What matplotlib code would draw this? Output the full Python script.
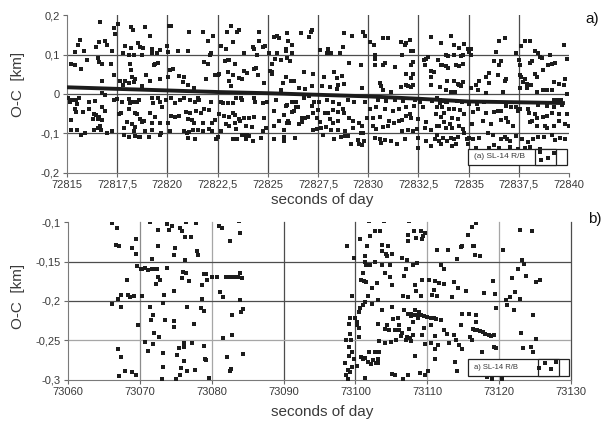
import matplotlib
matplotlib.use("Agg")
import matplotlib.pyplot as plt
from matplotlib.patches import Rectangle
from matplotlib.ticker import FuncFormatter

plt.rcParams['font.family'] = ['Liberation Sans', 'DejaVu Sans']

# ---------------- panel a) : O-C residuals, 72815-72840 s ----------------
seg_a1 = [
    (72816.65, 0.182), (72817.34, 0.168), (72817.55, 0.177), (72818.20, 0.169), (72818.27, 0.161),
    (72818.89, 0.169), (72820.07, 0.171), (72820.20, 0.173), (72817.39, 0.151), (72819.13, 0.148),
    (72815.65, 0.137), (72815.54, 0.124), (72816.57, 0.132), (72816.90, 0.134), (72817.01, 0.124),
    (72816.44, 0.120), (72817.91, 0.122), (72818.19, 0.117), (72818.53, 0.128), (72818.64, 0.120),
    (72818.77, 0.117), (72819.22, 0.114), (72819.62, 0.111), (72815.87, 0.109), (72815.38, 0.107),
    (72817.25, 0.109), (72817.78, 0.105), (72820.00, 0.122), (72820.03, 0.107), (72820.52, 0.109),
    (72821.01, 0.109), (72818.07, 0.098), (72818.32, 0.098), (72818.73, 0.098), (72819.22, 0.103),
    (72819.46, 0.103), (72815.21, 0.075), (72815.42, 0.073), (72815.70, 0.064), (72815.98, 0.085),
    (72816.52, 0.090), (72816.60, 0.081), (72816.73, 0.075), (72817.17, 0.077), (72818.15, 0.075),
    (72819.38, 0.077), (72819.51, 0.079), (72819.35, 0.073), (72820.11, 0.060), (72820.28, 0.064),
    (72818.20, 0.060), (72818.24, 0.043), (72817.34, 0.049), (72818.92, 0.049), (72816.76, 0.032),
    (72817.66, 0.032), (72817.91, 0.034), (72818.07, 0.028), (72818.32, 0.030), (72818.37, 0.038),
    (72818.73, 0.021), (72819.13, 0.034), (72819.62, 0.038), (72820.03, 0.043), (72820.60, 0.045),
    (72820.82, 0.042), (72820.77, 0.030), (72821.01, 0.024), (72817.78, 0.023),
    (72815.05, -0.009), (72815.26, -0.015), (72815.13, -0.020), (72815.46, -0.015), (72815.62, -0.009),
    (72815.49, -0.026), (72815.38, -0.039), (72816.08, -0.020), (72816.41, -0.017), (72816.76, 0.002),
    (72816.90, -0.003), (72817.34, -0.015), (72817.50, -0.013), (72817.75, -0.020), (72818.07, -0.013),
    (72818.15, -0.023), (72818.27, -0.021), (72818.48, -0.020), (72818.59, -0.015), (72819.22, -0.011),
    (72819.30, -0.023), (72819.54, -0.011), (72819.62, -0.021), (72819.71, -0.032), (72819.95, -0.015),
    (72820.20, -0.009), (72820.36, -0.023), (72820.65, -0.015), (72820.85, -0.011), (72821.14, -0.015),
    (72816.11, -0.039), (72816.76, -0.032), (72815.78, -0.045), (72815.46, -0.045), (72816.36, -0.051),
    (72816.44, -0.054), (72816.57, -0.057), (72816.52, -0.064), (72816.31, -0.064), (72816.73, -0.066),
    (72816.90, -0.044), (72817.58, -0.051), (72817.71, -0.049), (72818.07, -0.039), (72818.37, -0.047),
    (72818.48, -0.051), (72818.64, -0.064), (72818.73, -0.071), (72818.86, -0.068), (72819.13, -0.047),
    (72819.38, -0.057), (72819.22, -0.073), (72819.62, -0.073), (72820.03, -0.073), (72820.16, -0.056),
    (72820.36, -0.057), (72820.60, -0.056), (72820.93, -0.045), (72821.14, -0.047), (72815.21, -0.066),
    (72816.52, -0.085), (72816.63, -0.081), (72816.36, -0.092), (72816.68, -0.090), (72817.25, -0.094),
    (72817.01, -0.099), (72815.21, -0.090), (72815.49, -0.092), (72815.70, -0.103), (72815.92, -0.100),
    (72817.83, -0.085), (72817.99, -0.071), (72818.24, -0.077), (72818.40, -0.083), (72818.32, -0.094),
    (72818.37, -0.107), (72818.59, -0.109), (72818.89, -0.094), (72819.22, -0.092), (72819.67, -0.099),
    (72819.62, -0.105), (72820.11, -0.094), (72820.85, -0.094), (72820.98, -0.099), (72821.09, -0.097),
    (72821.01, -0.111), (72817.83, -0.105), (72818.07, -0.110), (72818.64, -0.109), (72819.09, -0.109),
]

seg_a2 = [
    (72821.09, 0.158), (72821.75, 0.156), (72822.00, 0.134), (72822.25, 0.148), (72822.95, 0.156),
    (72823.16, 0.171), (72823.25, 0.132), (72823.49, 0.156), (72823.58, 0.162), (72824.54, 0.158),
    (72824.54, 0.134), (72825.31, 0.145), (72825.48, 0.148), (72825.56, 0.141), (72825.98, 0.154),
    (72826.03, 0.134), (72826.19, 0.124), (72826.64, 0.154), (72827.05, 0.145), (72827.14, 0.158),
    (72827.22, 0.162), (72822.67, 0.122), (72822.91, 0.115), (72824.27, 0.120), (72824.32, 0.114),
    (72824.44, 0.098), (72824.74, 0.120), (72824.87, 0.122), (72825.07, 0.103), (72825.48, 0.103),
    (72825.89, 0.114), (72825.93, 0.109), (72826.19, 0.105), (72822.12, 0.100), (72822.17, 0.103),
    (72823.82, 0.103), (72821.84, 0.081), (72822.00, 0.077), (72822.88, 0.083), (72823.00, 0.085),
    (72823.08, 0.085), (72823.38, 0.077), (72825.23, 0.077), (72825.36, 0.088), (72825.65, 0.085),
    (72825.98, 0.090), (72826.09, 0.083), (72822.38, 0.049), (72822.50, 0.049), (72822.55, 0.051),
    (72823.00, 0.056), (72823.25, 0.047), (72823.82, 0.057), (72823.99, 0.054), (72824.32, 0.064),
    (72824.40, 0.066), (72824.49, 0.047), (72825.10, 0.057), (72825.20, 0.056), (72825.23, 0.051),
    (72826.14, 0.034), (72825.89, 0.043), (72825.76, 0.028), (72826.31, 0.032), (72826.81, 0.056),
    (72821.92, 0.038), (72823.08, 0.034), (72823.16, 0.020), (72823.58, 0.040), (72823.71, 0.038),
    (72824.82, 0.028), (72821.34, 0.015), (72825.65, 0.011), (72826.56, 0.015), (72826.86, 0.013),
    (72827.22, 0.020),
    (72821.51, -0.009), (72821.59, -0.015), (72822.17, -0.020), (72821.39, -0.021), (72822.67, -0.020),
    (72822.78, -0.023), (72823.00, -0.023), (72823.25, -0.023), (72823.41, -0.011), (72823.66, -0.011),
    (72823.71, -0.015), (72824.32, -0.011), (72824.37, -0.020), (72824.74, -0.023), (72824.98, -0.020),
    (72825.43, -0.015), (72825.89, -0.030), (72825.98, -0.028), (72826.23, -0.021), (72826.39, -0.021),
    (72826.81, -0.011), (72827.05, -0.006), (72827.30, -0.020), (72821.42, -0.043), (72821.84, -0.039),
    (72822.09, -0.040), (72821.67, -0.047), (72823.25, -0.047), (72822.58, -0.051), (72822.83, -0.056),
    (72823.05, -0.057), (72823.38, -0.054), (72823.58, -0.064), (72823.82, -0.062), (72824.07, -0.062),
    (72824.32, -0.057), (72824.82, -0.060), (72825.31, -0.043), (72825.81, -0.054), (72826.03, -0.068),
    (72826.23, -0.045), (72826.31, -0.043), (72826.39, -0.034), (72826.52, -0.034), (72826.72, -0.062),
    (72827.02, -0.057), (72827.22, -0.030), (72821.01, -0.064), (72821.22, -0.066), (72821.34, -0.073),
    (72821.75, -0.073), (72822.22, -0.073), (72822.38, -0.066), (72822.91, -0.077), (72823.05, -0.080),
    (72823.38, -0.073), (72823.61, -0.068), (72823.91, -0.081), (72824.21, -0.083), (72824.90, -0.085),
    (72825.31, -0.081), (72825.56, -0.068), (72825.98, -0.073), (72826.06, -0.074), (72826.56, -0.077),
    (72826.72, -0.071), (72826.86, -0.062), (72821.26, -0.092), (72821.51, -0.090), (72821.75, -0.094),
    (72822.09, -0.088), (72822.22, -0.094), (72822.67, -0.094), (72823.41, -0.088), (72824.74, -0.094),
    (72825.81, -0.090), (72827.25, -0.092), (72821.39, -0.114), (72822.42, -0.114), (72822.50, -0.109),
    (72823.25, -0.114), (72823.49, -0.114), (72823.71, -0.105), (72823.87, -0.103), (72823.99, -0.105),
    (72824.07, -0.107), (72823.94, -0.115), (72824.24, -0.120), (72824.65, -0.111), (72825.31, -0.115),
    (72825.81, -0.109), (72825.81, -0.120), (72826.36, -0.111),
]

seg_a3 = [
    (72828.81, 0.154), (72829.21, 0.148), (72829.75, 0.156), (72829.83, 0.148), (72830.08, 0.132),
    (72830.30, 0.124), (72830.75, 0.143), (72830.99, 0.141), (72831.62, 0.131), (72831.82, 0.124),
    (72831.90, 0.128), (72832.07, 0.137), (72832.15, 0.109), (72832.24, 0.109), (72833.15, 0.145),
    (72833.64, 0.128), (72828.01, 0.114), (72827.60, 0.111), (72827.93, 0.103), (72828.15, 0.103),
    (72828.59, 0.103), (72828.76, 0.120), (72831.66, 0.098), (72830.33, 0.098), (72830.36, 0.088),
    (72830.33, 0.073), (72829.04, 0.079), (72829.64, 0.074), (72830.75, 0.073), (72830.86, 0.079),
    (72831.36, 0.068), (72832.15, 0.074), (72832.24, 0.081), (72832.78, 0.085), (72832.90, 0.088),
    (72832.98, 0.094), (72832.82, 0.074), (72833.15, 0.057), (72833.28, 0.056), (72833.61, 0.074),
    (72827.27, 0.051), (72828.31, 0.056), (72827.81, 0.043), (72828.43, 0.041), (72828.68, 0.045),
    (72831.90, 0.051), (72832.24, 0.051), (72832.12, 0.040), (72833.15, 0.043), (72833.15, 0.023),
    (72827.71, 0.020), (72828.10, 0.017), (72828.51, 0.023), (72828.81, 0.026), (72828.43, 0.013),
    (72829.67, 0.015), (72830.58, 0.028), (72830.63, 0.020), (72830.75, 0.009), (72831.16, 0.006),
    (72831.62, 0.017), (72831.90, 0.023), (72831.99, 0.020), (72832.24, 0.023), (72832.15, 0.017),
    (72827.55, -0.021), (72827.93, -0.015), (72828.26, -0.020), (72828.54, -0.026), (72829.01, -0.015),
    (72829.30, -0.020), (72829.83, -0.020), (72830.50, -0.015), (72830.91, -0.017), (72831.32, -0.015),
    (72831.74, -0.017), (72832.32, -0.015), (72832.57, -0.020), (72833.18, -0.017), (72833.56, -0.023),
    (72827.27, -0.047), (72827.52, -0.040), (72827.85, -0.047), (72828.01, -0.049), (72828.26, -0.040),
    (72828.51, -0.045), (72828.76, -0.037), (72828.81, -0.047), (72830.08, -0.037), (72830.41, -0.034),
    (72830.86, -0.037), (72831.24, -0.043), (72831.52, -0.039), (72831.90, -0.032), (72832.29, -0.030),
    (72832.73, -0.032), (72827.43, -0.062), (72827.60, -0.071), (72828.10, -0.064), (72828.26, -0.074),
    (72828.51, -0.068), (72829.04, -0.062), (72829.25, -0.068), (72829.54, -0.073), (72829.67, -0.081),
    (72829.92, -0.060), (72830.25, -0.062), (72830.58, -0.057), (72831.03, -0.068), (72831.29, -0.073),
    (72831.52, -0.068), (72831.69, -0.066), (72831.90, -0.056), (72832.07, -0.051), (72832.15, -0.060),
    (72832.48, -0.064), (72832.90, -0.071), (72833.39, -0.051), (72827.43, -0.088), (72827.65, -0.085),
    (72827.88, -0.083), (72828.15, -0.092), (72828.51, -0.092), (72828.84, -0.094), (72829.25, -0.085),
    (72829.64, -0.099), (72829.75, -0.099), (72830.25, -0.081), (72830.41, -0.088), (72830.75, -0.083),
    (72830.99, -0.081), (72831.66, -0.094), (72831.99, -0.090), (72832.24, -0.094), (72832.45, -0.088),
    (72832.82, -0.085), (72833.11, -0.092), (72827.76, -0.103), (72828.31, -0.114), (72828.64, -0.109),
    (72828.84, -0.107), (72829.01, -0.107), (72829.14, -0.126), (72829.47, -0.117), (72829.54, -0.126),
    (72829.67, -0.128), (72829.80, -0.120), (72830.36, -0.111), (72830.58, -0.114), (72830.66, -0.124),
    (72830.83, -0.117), (72831.16, -0.120), (72831.46, -0.126), (72831.82, -0.114), (72832.48, -0.137),
    (72832.48, -0.111), (72832.90, -0.120), (72833.11, -0.131), (72833.35, -0.114), (72833.51, -0.120),
]

seg_a4 = [
    (72834.11, 0.148), (72834.28, 0.124), (72834.53, 0.117), (72834.78, 0.126), (72834.95, 0.114),
    (72835.12, 0.114), (72835.03, 0.107), (72836.54, 0.134), (72836.80, 0.141), (72837.80, 0.134),
    (72838.05, 0.134), (72837.63, 0.122), (72839.73, 0.124), (72833.86, 0.098), (72833.99, 0.097),
    (72834.28, 0.100), (72834.61, 0.097), (72834.73, 0.100), (72835.12, 0.100), (72836.38, 0.107),
    (72837.38, 0.105), (72838.31, 0.109), (72838.47, 0.105), (72838.56, 0.094), (72838.64, 0.090),
    (72839.06, 0.100), (72833.49, 0.085), (72833.69, 0.074), (72833.86, 0.071), (72833.99, 0.066),
    (72834.36, 0.073), (72834.50, 0.071), (72834.70, 0.077), (72836.29, 0.083), (72836.54, 0.074),
    (72836.63, 0.083), (72837.52, 0.085), (72837.55, 0.074), (72838.05, 0.079), (72838.14, 0.083),
    (72838.98, 0.074), (72839.14, 0.077), (72839.31, 0.079), (72839.90, 0.088), (72833.94, 0.032),
    (72834.28, 0.034), (72834.45, 0.026), (72834.50, 0.023), (72834.61, 0.020), (72834.70, 0.030),
    (72836.01, 0.054), (72835.87, 0.043), (72835.54, 0.034), (72835.37, 0.023), (72836.04, 0.028),
    (72836.46, 0.047), (72836.88, 0.038), (72836.80, 0.032), (72837.55, 0.049), (72837.63, 0.043),
    (72837.80, 0.038), (72837.72, 0.030), (72837.89, 0.026), (72838.09, 0.023), (72838.31, 0.051),
    (72838.39, 0.043), (72838.73, 0.062), (72839.23, 0.030), (72839.48, 0.026), (72839.73, 0.023),
    (72839.82, 0.038), (72833.56, 0.017), (72833.86, 0.011), (72834.11, 0.006), (72834.33, 0.004),
    (72835.12, 0.015), (72835.45, 0.011), (72835.87, 0.003), (72836.71, 0.004), (72837.55, 0.015),
    (72837.89, 0.015), (72838.39, 0.004), (72838.73, 0.009), (72838.89, 0.011), (72839.14, 0.011),
    (72839.23, -0.015), (72839.43, -0.015), (72839.60, -0.015), (72839.90, 0.000),
    (72833.44, -0.009), (72833.56, -0.015), (72833.69, -0.017), (72833.86, -0.020), (72833.94, -0.021),
    (72834.40, -0.017), (72834.66, -0.021), (72835.03, -0.026), (72835.40, -0.026), (72835.79, -0.020),
    (72836.88, -0.030), (72837.38, -0.034), (72837.47, -0.043), (72837.55, -0.039), (72837.97, -0.037),
    (72838.47, -0.028), (72838.89, -0.030), (72839.26, -0.034), (72839.65, -0.028), (72833.44, -0.032),
    (72833.69, -0.034), (72834.03, -0.039), (72834.28, -0.037), (72834.56, -0.040), (72833.61, -0.057),
    (72833.78, -0.047), (72834.19, -0.062), (72834.45, -0.064), (72834.78, -0.051), (72835.20, -0.045),
    (72835.45, -0.037), (72835.87, -0.049), (72836.29, -0.045), (72836.46, -0.043), (72836.63, -0.043),
    (72836.88, -0.060), (72837.13, -0.034), (72838.02, -0.047), (72838.31, -0.051), (72838.39, -0.062),
    (72838.69, -0.057), (72838.89, -0.056), (72839.14, -0.047), (72839.48, -0.051), (72839.90, -0.051),
    (72833.44, -0.080), (72833.52, -0.081), (72833.78, -0.071), (72833.86, -0.085), (72834.06, -0.077),
    (72834.19, -0.085), (72834.53, -0.081), (72834.70, -0.088), (72835.17, -0.077), (72835.70, -0.068),
    (72836.12, -0.077), (72836.63, -0.066), (72836.96, -0.071), (72837.21, -0.081), (72838.05, -0.071),
    (72838.14, -0.068), (72838.39, -0.081), (72838.81, -0.081), (72838.89, -0.085), (72839.23, -0.080),
    (72839.48, -0.068), (72839.82, -0.077), (72839.98, -0.081), (72833.44, -0.105), (72833.72, -0.111),
    (72833.94, -0.120), (72834.11, -0.111), (72834.28, -0.114), (72834.45, -0.109), (72834.78, -0.100),
    (72834.90, -0.115), (72835.03, -0.111), (72835.20, -0.114), (72835.54, -0.111), (72835.96, -0.100),
    (72836.21, -0.103), (72836.63, -0.115), (72836.80, -0.109), (72836.91, -0.114), (72837.08, -0.120),
    (72837.38, -0.107), (72837.68, -0.114), (72837.97, -0.122), (72838.22, -0.115), (72838.47, -0.109),
    (72838.76, -0.109), (72839.14, -0.103), (72839.31, -0.117), (72839.56, -0.111), (72839.82, -0.115),
    (72833.61, -0.126), (72834.19, -0.131), (72834.36, -0.126), (72834.95, -0.126), (72835.37, -0.137),
    (72836.04, -0.137), (72836.29, -0.128), (72836.54, -0.137), (72837.05, -0.134), (72837.47, -0.139),
    (72837.80, -0.137), (72838.05, -0.134), (72838.56, -0.139),
]

# dense run of points forming the drifting band near zero
trend_sec = [72815.0, 72817.5, 72820.0, 72822.5, 72825.0, 72827.5,
             72830.0, 72832.5, 72835.0, 72837.5, 72839.8]
trend_oc = [0.017, 0.013, 0.009, 0.005, 0.002, -0.002,
            -0.006, -0.012, -0.019, -0.021, -0.023]

# ---------------- panel b) : O-C residuals, 73060-73130 s ----------------
seg_b1 = [
    (73066.14, -0.101), (73066.88, -0.108), (73071.40, -0.100), (73073.81, -0.102), (73074.42, -0.105),
    (73074.05, -0.110), (73072.56, -0.110), (73075.58, -0.108), (73075.91, -0.111), (73076.37, -0.100),
    (73077.81, -0.101), (73081.07, -0.105), (73081.40, -0.107), (73083.81, -0.099), (73083.95, -0.114),
    (73069.53, -0.121), (73076.28, -0.119), (73077.07, -0.119), (73082.51, -0.124), (73066.74, -0.129),
    (73067.12, -0.130), (73068.93, -0.133), (73072.47, -0.131), (73074.88, -0.133), (73078.00, -0.137),
    (73078.14, -0.142), (73069.44, -0.141), (73074.70, -0.142), (73071.72, -0.147), (73076.28, -0.148),
    (73069.63, -0.156), (73070.23, -0.159), (73070.14, -0.160), (73070.70, -0.158), (73071.16, -0.161),
    (73071.67, -0.160), (73072.05, -0.160), (73072.33, -0.159), (73073.77, -0.158), (73075.95, -0.163),
    (73076.42, -0.164), (73078.88, -0.166), (73079.21, -0.166), (73080.09, -0.169), (73080.74, -0.169),
    (73081.95, -0.169), (73082.56, -0.170), (73082.93, -0.170), (73083.26, -0.170), (73083.72, -0.170),
    (73084.28, -0.171), (73083.95, -0.164), (73072.56, -0.170), (73072.74, -0.173), (73075.81, -0.171),
    (73076.84, -0.175), (73079.40, -0.174), (73078.60, -0.180), (73068.14, -0.173), (73072.23, -0.178),
    (73074.70, -0.187), (73073.40, -0.192), (73067.44, -0.192), (73068.28, -0.192), (73068.65, -0.195),
    (73069.12, -0.194), (73070.23, -0.194), (73066.98, -0.197), (73066.14, -0.204), (73067.35, -0.207),
    (73078.60, -0.198), (73081.16, -0.188), (73081.53, -0.195), (73083.91, -0.199), (73071.40, -0.208),
    (73073.21, -0.202), (73076.60, -0.208), (73078.51, -0.209), (73078.98, -0.213), (73071.86, -0.218),
    (73071.49, -0.224), (73073.49, -0.224), (73074.79, -0.225), (73074.74, -0.233), (73077.58, -0.229),
    (73069.72, -0.230), (73082.79, -0.218), (73084.09, -0.214), (73084.33, -0.210), (73071.95, -0.241),
    (73072.65, -0.245), (73082.88, -0.243), (73081.63, -0.247), (73070.74, -0.252), (73071.86, -0.254),
    (73076.19, -0.253), (73077.30, -0.253), (73076.14, -0.258), (73075.44, -0.259), (73078.98, -0.257),
    (73066.98, -0.261), (73071.07, -0.263), (73067.44, -0.271), (73073.21, -0.266), (73075.12, -0.268),
    (73079.07, -0.274), (73079.21, -0.275), (73076.19, -0.276), (73082.09, -0.271), (73084.33, -0.267),
    (73073.16, -0.283), (73075.72, -0.285), (73076.51, -0.288), (73077.72, -0.287), (73082.70, -0.286),
    (73082.56, -0.288), (73068.00, -0.288), (73068.84, -0.290), (73069.53, -0.294), (73067.12, -0.295),
    (73075.58, -0.294), (73074.98, -0.299), (73073.12, -0.299), (73079.67, -0.297),
]

seg_b2 = [
    (73101.83, -0.099), (73104.04, -0.099), (73107.43, -0.099), (73102.66, -0.112), (73103.39, -0.112),
    (73102.06, -0.118), (73100.60, -0.122), (73098.85, -0.131), (73101.56, -0.130), (73103.67, -0.129),
    (73104.50, -0.131), (73103.67, -0.137), (73104.22, -0.140), (73104.36, -0.143), (73105.14, -0.140),
    (73107.25, -0.117), (73107.25, -0.124), (73108.17, -0.111), (73108.39, -0.120), (73109.17, -0.111),
    (73109.40, -0.118), (73109.72, -0.114), (73109.27, -0.121), (73111.28, -0.136), (73112.84, -0.136),
    (73114.08, -0.147), (73099.77, -0.145), (73101.28, -0.143), (73101.38, -0.150), (73101.47, -0.154),
    (73102.06, -0.155), (73102.75, -0.150), (73103.72, -0.154), (73104.82, -0.154), (73106.42, -0.146),
    (73107.11, -0.148), (73108.07, -0.154), (73108.62, -0.152), (73107.02, -0.159), (73111.93, -0.154),
    (73112.29, -0.159), (73101.06, -0.164), (73104.08, -0.164), (73104.82, -0.170), (73106.79, -0.168),
    (73109.31, -0.173), (73110.18, -0.173), (73111.10, -0.175), (73111.56, -0.177), (73112.39, -0.178),
    (73113.76, -0.176), (73110.92, -0.186), (73100.73, -0.174), (73101.15, -0.175), (73101.47, -0.176),
    (73102.29, -0.183), (73102.98, -0.177), (73105.05, -0.180), (73108.26, -0.180), (73108.39, -0.187),
    (73106.65, -0.194), (73107.25, -0.195), (73109.17, -0.194), (73110.64, -0.192), (73111.38, -0.194),
    (73113.49, -0.195), (73099.54, -0.194), (73101.79, -0.194), (73103.12, -0.199), (73102.29, -0.204),
    (73101.28, -0.201), (73101.01, -0.205), (73100.69, -0.209), (73100.46, -0.214), (73100.00, -0.221),
    (73099.31, -0.221), (73100.23, -0.227), (73100.23, -0.230), (73099.08, -0.229), (73100.55, -0.234),
    (73099.22, -0.242), (73105.14, -0.207), (73103.67, -0.211), (73106.79, -0.212), (73107.34, -0.216),
    (73108.35, -0.211), (73108.85, -0.214), (73107.71, -0.217), (73107.80, -0.219), (73108.17, -0.218),
    (73108.72, -0.218), (73109.17, -0.218), (73109.54, -0.219), (73110.00, -0.220), (73110.46, -0.221),
    (73110.92, -0.221), (73111.24, -0.223), (73105.28, -0.223), (73105.96, -0.222), (73108.03, -0.227),
    (73108.72, -0.222), (73111.93, -0.224), (73112.39, -0.237), (73106.10, -0.231), (73104.36, -0.230),
    (73103.12, -0.229), (73104.13, -0.235), (73104.68, -0.237), (73105.50, -0.237), (73106.10, -0.237),
    (73106.28, -0.244), (73106.42, -0.240), (73107.43, -0.235), (73108.03, -0.243), (73107.57, -0.247),
    (73106.97, -0.249), (73107.11, -0.246), (73110.46, -0.231), (73109.31, -0.243), (73109.54, -0.234),
    (73111.01, -0.244), (73112.75, -0.242), (73113.76, -0.243), (73100.46, -0.245), (73099.45, -0.250),
    (73098.62, -0.250), (73103.30, -0.251), (73104.13, -0.253), (73104.95, -0.252), (73105.60, -0.250),
    (73107.71, -0.251), (73109.63, -0.254), (73110.55, -0.253), (73111.47, -0.256), (73112.98, -0.253),
    (73113.99, -0.250), (73099.08, -0.258), (73099.08, -0.269), (73098.53, -0.278), (73099.54, -0.265),
    (73101.93, -0.265), (73102.66, -0.264), (73103.21, -0.265), (73099.86, -0.273), (73100.83, -0.271),
    (73101.01, -0.274), (73101.38, -0.272), (73101.70, -0.277), (73102.39, -0.275), (73102.84, -0.278),
    (73103.12, -0.278), (73103.12, -0.273), (73100.23, -0.282), (73099.54, -0.284), (73098.99, -0.287),
    (73099.31, -0.290), (73102.20, -0.280), (73108.26, -0.270), (73111.10, -0.261), (73111.01, -0.273),
    (73113.85, -0.277), (73098.72, -0.294), (73098.99, -0.299), (73101.38, -0.298), (73105.05, -0.293),
    (73105.50, -0.294), (73106.56, -0.299), (73107.34, -0.294), (73108.94, -0.291), (73109.72, -0.294),
    (73110.09, -0.288), (73114.13, -0.289),
]

seg_b3 = [
    (73116.83, -0.101), (73116.24, -0.106), (73115.64, -0.116), (73114.86, -0.130), (73114.72, -0.132),
    (73116.38, -0.130), (73116.56, -0.131), (73116.70, -0.142), (73117.39, -0.143), (73122.89, -0.110),
    (73124.59, -0.111), (73120.60, -0.135), (73123.12, -0.148), (73123.44, -0.153), (73122.66, -0.159),
    (73123.72, -0.168), (73121.74, -0.171), (73125.18, -0.176), (73125.73, -0.173), (73114.31, -0.183),
    (73115.32, -0.187), (73117.84, -0.190), (73119.08, -0.175), (73119.45, -0.191), (73122.20, -0.189),
    (73121.51, -0.195), (73122.89, -0.198), (73120.96, -0.199), (73121.15, -0.205), (73122.06, -0.211),
    (73119.59, -0.209), (73114.86, -0.216), (73115.78, -0.217), (73116.83, -0.218), (73116.83, -0.226),
    (73124.72, -0.218), (73114.72, -0.231), (73116.38, -0.235), (73116.61, -0.237), (73116.93, -0.237),
    (73117.29, -0.238), (73117.75, -0.239), (73118.07, -0.242), (73118.53, -0.243), (73118.85, -0.244),
    (73119.22, -0.243), (73115.92, -0.245), (73116.24, -0.250), (73123.03, -0.241), (73125.18, -0.248),
    (73124.50, -0.258), (73123.26, -0.259), (73124.72, -0.265), (73119.22, -0.258), (73119.59, -0.259),
    (73114.40, -0.256), (73114.77, -0.261), (73117.61, -0.265), (73118.30, -0.296), (73118.99, -0.299),
    (73120.37, -0.299),
]

label_a = "(a) SL-14 R/B"
label_b = "a) SL-14 R/B"

DOT = '#1c1c1c'
TXT = '#3a3a3a'
DARK_GRID = '#4d4d4d'
LIGHT_GRID = '#a6a6a6'


def comma(v, _pos=None):
    return f"{v:g}".replace('.', ',')


def style_axes(ax):
    for side in ('top', 'right'):
        ax.spines[side].set_visible(False)
    for side in ('left', 'bottom'):
        ax.spines[side].set_color('#7a7a7a')
        ax.spines[side].set_linewidth(0.8)
    ax.tick_params(direction='out', length=3, width=0.8, color='#6a6a6a',
                   labelsize=8, labelcolor=TXT, pad=2)
    ax.xaxis.set_major_formatter(FuncFormatter(comma))
    ax.yaxis.set_major_formatter(FuncFormatter(comma))


def draw_points(ax, segs):
    for seg in segs:
        xs = [p[0] for p in seg]
        ys = [p[1] for p in seg]
        ax.plot(xs, ys, linestyle='none', marker='s', ms=2.3, mew=0,
                color=DOT, zorder=3)


def legend_box(ax, x0, y0, w, h, xs_split, text, fs, dots):
    ax.add_patch(Rectangle((x0, y0), w, h, transform=ax.transAxes,
                           facecolor='white', edgecolor='#222222', lw=0.9,
                           zorder=6, clip_on=False))
    ax.add_patch(Rectangle((xs_split[0], y0), xs_split[1] - xs_split[0], h,
                           transform=ax.transAxes, facecolor='white',
                           edgecolor='#222222', lw=0.9, zorder=7, clip_on=False))
    ax.text(x0 + 0.012, y0 + h / 2, text, transform=ax.transAxes, ha='left',
            va='center', fontsize=fs, color=TXT, zorder=8)
    ax.plot([d[0] for d in dots], [d[1] for d in dots], linestyle='none',
            marker='s', ms=2.3, mew=0, color=DOT, transform=ax.transAxes,
            zorder=8, clip_on=False)


fig = plt.figure(figsize=(6.04, 4.24), dpi=100)

# ---- panel a ----
ax1 = fig.add_axes([0.1109, 0.5920, 0.8311, 0.3726])
ax1.set_xlim(72815, 72840)
ax1.set_ylim(-0.2, 0.2)
xt_a = [72815, 72817.5, 72820, 72822.5, 72825, 72827.5, 72830, 72832.5, 72835, 72837.5, 72840]
yt_a = [-0.2, -0.1, 0, 0.1, 0.2]
ax1.set_xticks(xt_a)
ax1.set_yticks(yt_a)
style_axes(ax1)
for v in xt_a[1:-1]:
    ax1.axvline(v, color=DARK_GRID, lw=0.9, zorder=1)
for v in yt_a[1:-1]:
    ax1.axhline(v, color=DARK_GRID, lw=0.9, zorder=1)
draw_points(ax1, [seg_a1, seg_a2, seg_a3, seg_a4])
ax1.plot(trend_sec, trend_oc, color=DOT, lw=2.8, solid_capstyle='butt', zorder=4)
legend_box(ax1, 0.799, 0.051, 0.197, 0.101, (0.932, 0.974), label_a, 6,
           [(0.942, 0.130), (0.958, 0.092), (0.970, 0.127), (0.944, 0.082)])

# ---- panel b ----
ax2 = fig.add_axes([0.1126, 0.1038, 0.8328, 0.3726])
ax2.set_xlim(73060, 73130)
ax2.set_ylim(-0.3, -0.1)
xt_b = [73060, 73070, 73080, 73090, 73100, 73110, 73120, 73130]
yt_b = [-0.3, -0.25, -0.2, -0.15, -0.1]
ax2.set_xticks(xt_b)
ax2.set_yticks(yt_b)
style_axes(ax2)
vgrid_b = {73070: '#8c8c8c', 73080: LIGHT_GRID, 73090: DARK_GRID, 73100: DARK_GRID,
           73110: LIGHT_GRID, 73120: LIGHT_GRID, 73130: DARK_GRID}
for v, c in vgrid_b.items():
    ax2.axvline(v, color=c, lw=0.9, zorder=1, clip_on=False)
hgrid_b = {-0.15: DARK_GRID, -0.2: DARK_GRID, -0.25: LIGHT_GRID}
for v, c in hgrid_b.items():
    ax2.axhline(v, color=c, lw=0.9, zorder=1)
draw_points(ax2, [seg_b1, seg_b2, seg_b3])
legend_box(ax2, 0.795, 0.025, 0.201, 0.108, (0.934, 0.976), label_b, 5.5,
           [(0.948, 0.109), (0.961, 0.070), (0.971, 0.112), (0.937, 0.074)])

# ---- axis titles and panel tags ----
for yc in (0.528, 0.028):
    fig.text(0.534, yc, "seconds of day", ha='center', va='center',
             fontsize=11, color=TXT)
for yc in (0.800, 0.302):
    fig.text(0.030, yc, "O-C  [km]", ha='center', va='center', rotation=90,
             fontsize=11, color=TXT)
fig.text(0.980, 0.955, "a)", ha='center', va='center', fontsize=11, color='#111111')
fig.text(0.985, 0.483, "b)", ha='center', va='center', fontsize=11, color='#111111')

fig.savefig("out.png", dpi=100)
